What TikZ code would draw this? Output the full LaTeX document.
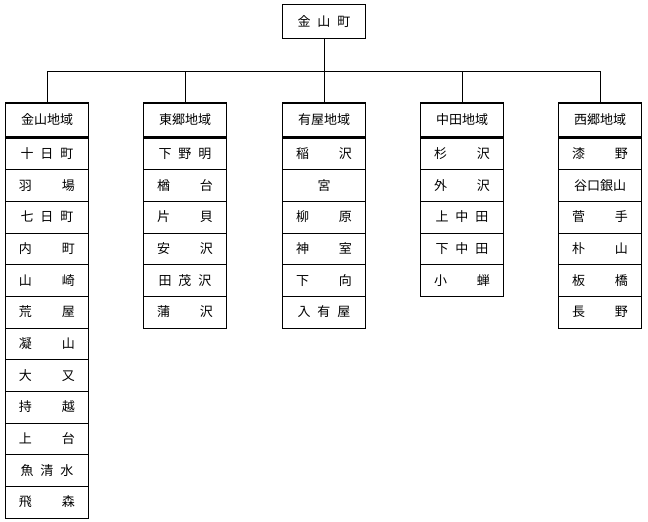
\documentclass[tikz,border=0pt]{standalone}
\usepackage{fontspec}
\usetikzlibrary{calc}
\newfontfamily\jp{Noto Sans CJK JP}
\newcommand{\jtw}[2]{#1\hspace{30pt}#2}
\newcommand{\jth}[3]{#1\hspace{7pt}#2\hspace{7pt}#3}
\begin{document}
\begin{tikzpicture}[x=1pt,y=-1pt,
  hdr/.style={draw,line width=1.6pt,minimum width=83pt,minimum height=34pt,inner sep=0pt,font=\jp\fontsize{13}{13}\selectfont},
  itm/.style={draw,line width=0.5pt,minimum width=83pt,minimum height=31.67pt,inner sep=0pt,font=\jp\fontsize{13}{13}\selectfont},
  conn/.style={line width=0.6pt}]
\useasboundingbox (0,0) rectangle (648,522);
\node[hdr] (top) at (324,21.5) {\jth{金}{山}{町}};
\coordinate (bar) at (324,71);
\draw[conn] (top.south) -- (bar);
\def\hy{120}
\newcommand{\mkcol}[3]{%
  \node[hdr] (h#1) at (#2,\hy) {#3};
  \draw[conn] (h#1.north) |- (bar);}
\mkcol{1}{47}{金山地域}
\mkcol{2}{185}{東郷地域}
\mkcol{3}{324}{有屋地域}
\mkcol{4}{462}{中田地域}
\mkcol{5}{600}{西郷地域}
\newcommand{\mkitems}[2]{%
  \foreach \t [count=\i] in {#2} {
    \node[itm] (i#1-\i) at ($(h#1.south)+(0,{15.83+(\i-1)*31.67})$) {\t};
  }}
\mkitems{1}{\jth{十}{日}{町},\jtw{羽}{場},\jth{七}{日}{町},\jtw{内}{町},\jtw{山}{崎},\jtw{荒}{屋},\jtw{凝}{山},\jtw{大}{又},\jtw{持}{越},\jtw{上}{台},\jth{魚}{清}{水},\jtw{飛}{森}}
\mkitems{2}{\jth{下}{野}{明},\jtw{楢}{台},\jtw{片}{貝},\jtw{安}{沢},\jth{田}{茂}{沢},\jtw{蒲}{沢}}
\mkitems{3}{\jtw{稲}{沢},宮,\jtw{柳}{原},\jtw{神}{室},\jtw{下}{向},\jth{入}{有}{屋}}
\mkitems{4}{\jtw{杉}{沢},\jtw{外}{沢},\jth{上}{中}{田},\jth{下}{中}{田},\jtw{小}{蝉}}
\mkitems{5}{\jtw{漆}{野},谷口銀山,\jtw{菅}{手},\jtw{朴}{山},\jtw{板}{橋},\jtw{長}{野}}
\end{tikzpicture}
\end{document}
